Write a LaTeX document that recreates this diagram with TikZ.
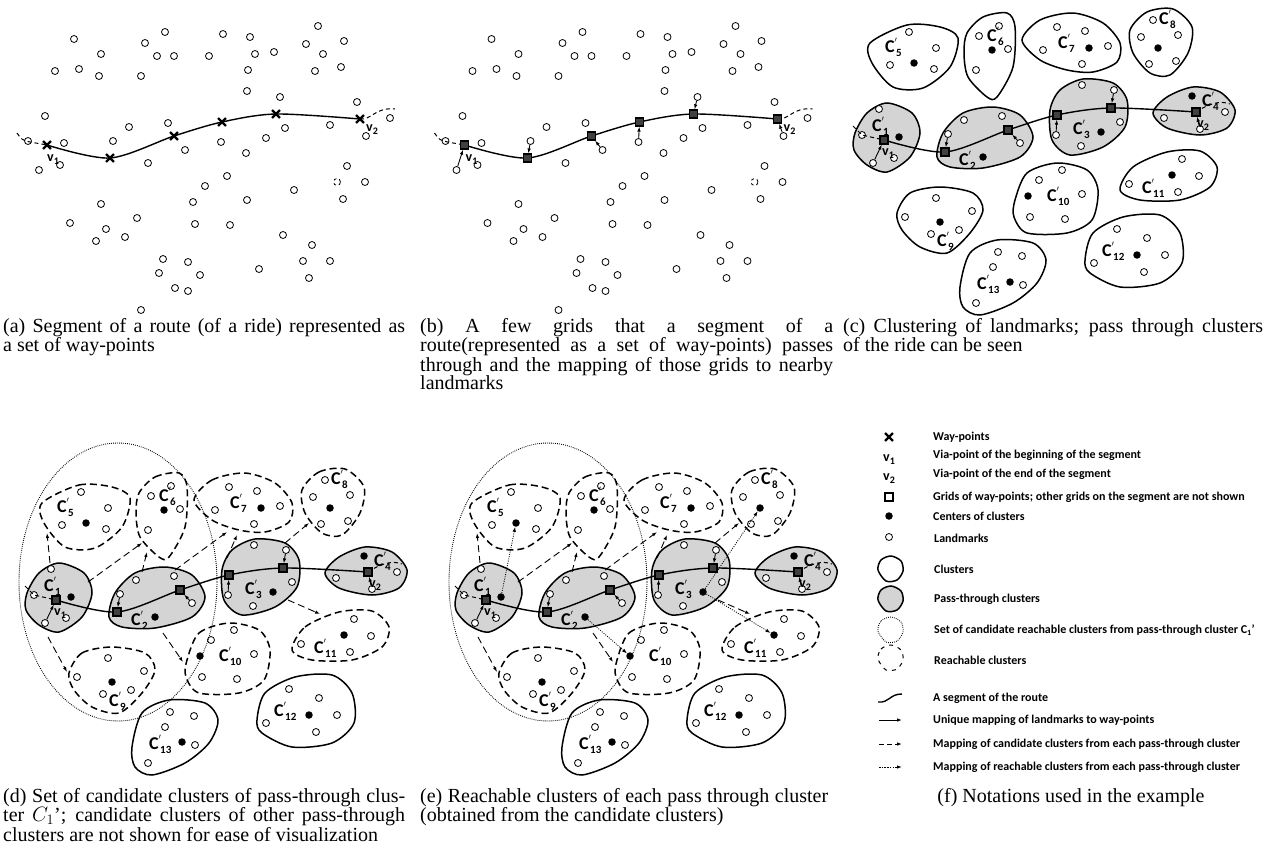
\documentclass[tikz,border=0pt]{standalone}
\usepackage{fontspec}
\setmainfont{Liberation Serif}
\newfontfamily\labelfont{Carlito}
\usetikzlibrary{arrows.meta,shapes.misc}

\newcommand{\clab}[1]{C\rlap{\smash{\raisebox{6.5pt}{\fontsize{11}{11}\selectfont$'$}}}\smash{\raisebox{-4pt}{\fontsize{11}{11}\selectfont\kern1.5pt #1}}}
\newcommand{\vsub}[1]{v\smash{\raisebox{-3.5pt}{\fontsize{10}{10}\selectfont #1}}}

\tikzset{
  lm/.style={circle, draw, fill=white, line width=0.8pt, inner sep=0pt, minimum size=7pt},
  ctr/.style={circle, fill=black, inner sep=0pt, minimum size=7.5pt},
  wpx/.style={cross out, draw, line width=2.4pt, inner sep=0pt, minimum size=5.5pt},
  grd/.style={rectangle, draw, line width=1.2pt, fill=black!75, inner sep=0pt, minimum size=8pt},
  rt/.style={line width=1.4pt},
  rtend/.style={line width=1pt, dash pattern=on 4pt off 3pt},
  map/.style={-{Latex[length=5pt,width=3.5pt]}, line width=0.9pt},
  clus/.style={line width=1.5pt},
  pass/.style={clus, fill=black!17},
  reach/.style={clus, dash pattern=on 7pt off 4pt},
  cand/.style={line width=0.9pt, dash pattern=on 0.8pt off 1.2pt},
  candarr/.style={-{Latex[length=5pt,width=3.5pt]}, line width=0.9pt, dash pattern=on 7pt off 4pt},
  reacharr/.style={-{Latex[length=5pt,width=3.5pt]}, line width=0.8pt, dash pattern=on 1pt off 1.3pt},
  clabel/.style={font=\labelfont\bfseries\fontsize{18}{18}\selectfont, inner sep=0pt, anchor=west},
  vlabel/.style={font=\labelfont\bfseries\fontsize{14}{14}\selectfont, inner sep=0pt, anchor=west},
  note/.style={font=\labelfont\bfseries\fontsize{12}{14}\selectfont, inner sep=0pt, anchor=west},
  captext/.style={font=\fontsize{20}{18.3}\selectfont, inner sep=0pt, anchor=north west, align=justify},
}

% landmarks of panels (a) and (b)
\newcommand{\landmarksAB}{
  \foreach \p [count=\i] in {(74,39),(101,54),(55,71),(79,69),(99,76),(145,43),(165,32),(157,56),(174,56),(141,76),
      (223,34),(250,37),(209,56),(255,54),(274,52),(248,70),(247,91),(318,26),(306,44),(344,41),(323,54),(315,71),
      (341,67),(357,102),(390,118),(45,116),(28,141),(64,143),(60,165),(129,127),(168,123),(148,163),(246,153),
      (266,138),(285,128),(330,125),(227,176),(205,186),(193,202),(247,200),(195,224),(230,225),(294,190),(347,166),
      (365,182),(343,199),(101,204),(70,223),(106,229),(137,218),(96,241),(125,237),(163,259),(188,262),(159,273),
      (200,275),(175,288),(188,291),(141,310),(283,235),(312,245),(303,261),(330,261),(309,278),(259,269)}
    \node[lm] (lmA\i) at \p {};
  \node[lm, dashed] (lmx) at (337,182) {};
  \node[lm] (m1) at (39,170) {};
  \node[lm] (m2) at (113,141) {};
  \node[lm] (m3) at (185,150) {};
  \node[lm] (m4) at (221,142) {};
  \node[lm] (m5) at (280,97) {};
  \node[lm] (m6) at (366,136) {};
}

% route of panels (a) and (b)
\newcommand{\routeAB}{
  \coordinate (w1) at (47,145);
  \coordinate (w2) at (110,158);
  \coordinate (w3) at (174,136);
  \coordinate (w4) at (222,122);
  \coordinate (w5) at (276,114);
  \coordinate (w6) at (360,119);
  \coordinate (ws) at (17,133);
  \coordinate (we) at (395,109);
  \draw[rtend] (ws) .. controls (22,140) .. (30,142) -- (w1);
  \draw[rtend] (w6) .. controls (372,120) and (375,107) .. (we);
  \draw[rt] plot[smooth] coordinates {(w1) (w2) (w3) (w4) (w5) (w6)};
}

% clusters of panels (c), (d) and (e)
\newcommand{\clusterLayout}[1]{
  \draw[#1] plot[smooth cycle] coordinates {(870,43) (907,25) (940,27) (958,38) (950,67) (923,88) (893,87) (872,63)};
  \draw[#1] plot[smooth cycle] coordinates {(967,33) (983,17) (1007,13) (1015,27) (1013,67) (997,97) (987,97) (968,77) (964,53)};
  \draw[#1] plot[smooth cycle] coordinates {(1022,40) (1040,20) (1073,13) (1103,23) (1120,43) (1117,62) (1093,72) (1067,70) (1040,60)};
  \draw[#1] plot[smooth cycle] coordinates {(1130,30) (1147,12) (1173,9) (1192,27) (1188,53) (1170,75) (1150,73) (1133,53)};
  \draw[#1] plot[smooth cycle] coordinates {(897,213) (910,193) (940,187) (973,193) (983,210) (970,233) (947,253) (920,247) (902,230)};
  \draw[#1] plot[smooth cycle] coordinates {(1015,200) (1027,173) (1057,163) (1087,170) (1098,190) (1092,220) (1067,233) (1027,233) (1014,217)};
  \draw[#1] plot[smooth cycle] coordinates {(1120,190) (1133,167) (1167,152) (1200,151) (1217,167) (1210,187) (1180,200) (1140,200)};
  \draw[clus] plot[smooth cycle] coordinates {(1085,260) (1093,233) (1123,217) (1160,215) (1180,233) (1182,263) (1160,283) (1120,287) (1090,273)};
  \draw[clus] plot[smooth cycle] coordinates {(960,287) (970,253) (997,240) (1033,243) (1046,260) (1037,283) (1013,303) (980,315) (963,307)};
  \draw[pass] plot[smooth cycle] coordinates {(855,133) (867,113) (887,103) (912,113) (920,133) (910,157) (887,172) (867,165) (854,150)};
  \draw[pass] plot[smooth cycle] coordinates {(937,157) (943,133) (963,113) (993,107) (1020,115) (1033,137) (1020,157) (983,168) (950,167)};
  \draw[pass] plot[smooth cycle] coordinates {(1050,110) (1060,90) (1083,79) (1113,83) (1127,100) (1125,127) (1103,147) (1070,155) (1052,140)};
  \draw[pass] plot[smooth cycle] coordinates {(1153,113) (1167,97) (1193,87) (1220,92) (1235,110) (1227,128) (1200,135) (1167,128)};
  \foreach \p [count=\i] in {(909,32),(936,48),(890,65),(934,69),(979,36),(999,26),(1008,49),(976,70),
      (1057,27),(1085,31),(1108,46),(1043,50),(1082,64),(1153,20),(1141,37),(1178,35),(1149,64),(1176,61),
      (879,109),(894,158),(964,120),(1002,116),(1082,85),(1120,122),(1081,146),(1164,118),(1225,112),
      (936,198),(972,211),(905,217),(931,234),(959,230),(1039,180),(1062,170),(1082,194),(1030,217),(1065,219),
      (1182,159),(1199,176),(1129,184),(1178,192),(1117,229),(1147,238),(1165,255),(1094,263),(1144,272),
      (998,252),(1022,256),(993,267),(1023,285),(976,303)}
    \node[lm] (lmC\i) at \p {};
  \node[lm] (q0) at (862,135) {};
  \node[lm] (q1) at (873,163) {};
  \node[lm] (q2) at (948,134) {};
  \node[lm] (q3) at (1020,143) {};
  \node[lm] (q4) at (1056,135) {};
  \node[lm] (q5) at (1114,90) {};
  \node[lm] (q6) at (1200,129) {};
  \foreach \n/\x/\y in {1/899/137,2/983/157,3/1101/132,4/1192/96,5/914/63,6/992/50,7/1089/48,
      8/1158/48,9/940/222,10/1028/196,11/1172/175,12/1137/255,13/1010/282}
    \node[ctr] (k\n) at (\x,\y) {};
  \foreach \n/\x/\y in {1/872/126,2/959/160,3/1073/129,4/1202/101,5/885/47,6/987/36,7/1058/43,
      8/1159/19,9/937/241,10/1047/196,11/1142/188,12/1102/251,13/977/284}
    \node[clabel] (cl\n) at (\x,\y) {\clab{\n}};
  \coordinate (g1) at (884,140);
  \coordinate (g2) at (945,152);
  \coordinate (g3) at (1008,130);
  \coordinate (g4) at (1057,115);
  \coordinate (g5) at (1111,108);
  \coordinate (g6) at (1196,112);
  \draw[rtend] (853,126) .. controls (857,131) .. (q0.center) -- (g1);
  \draw[rtend] (g6) .. controls (1208,104) and (1220,100) .. (1230,104);
  \draw[rt] plot[smooth] coordinates {(g1) (g2) (g3) (g4) (g5) (g6)};
  \foreach \i in {1,...,6} \node[grd] (sq\i) at (g\i) {};
  \foreach \i in {1,...,6} \draw[map] (q\i) -- (sq\i);
  \node[vlabel] (vc1) at (882,152) {\vsub{1}};
  \node[vlabel] (vc2) at (1197,124) {\vsub{2}};
}

\newcommand{\candArrows}{
  \draw[cand] (946,122) ellipse [x radius=99, y radius=139];
  \draw[candarr] (878,103) -- (875,73);
  \draw[candarr] (916,122) -- (970,83);
  \draw[candarr] (876,177) -- (895,212);
  \draw[candarr] (970,112) -- (975,92);
  \draw[candarr] (1003,110) -- (1055,72);
  \draw[candarr] (991,173) -- (1011,202);
  \draw[candarr] (1055,98) -- (1065,75);
  \draw[candarr] (1113,83) -- (1137,63);
  \draw[candarr] (1116,140) -- (1148,154);
}

\begin{document}
\begin{tikzpicture}[x=1pt,y=-1pt]
  \useasboundingbox (0,0) rectangle (1267,849);

  % (a)
  \landmarksAB
  \routeAB
  \foreach \i in {1,...,6} \node[wpx] (x\i) at (w\i) {};
  \node[vlabel] (va1) at (47,158) {\vsub{1}};
  \node[vlabel] (va2) at (366,128) {\vsub{2}};

  % (b)
  \begin{scope}[shift={(417.5,0)}]
    \landmarksAB
    \routeAB
    \foreach \i in {1,...,6} \node[grd] (s\i) at (w\i) {};
    \foreach \i in {1,...,6} \draw[map] (m\i) -- (s\i);
    \node[vlabel] (vb1) at (48,158) {\vsub{1}};
    \node[vlabel] (vb2) at (366,128) {\vsub{2}};
  \end{scope}

  % (c)
  \clusterLayout{clus}

  % (d)
  \begin{scope}[shift={(-828,460)}]
    \clusterLayout{reach}
    \candArrows
  \end{scope}

  % (e)
  \begin{scope}[shift={(-398,460)}]
    \clusterLayout{reach}
    \candArrows
    \draw[reacharr] (k1) -- (k5);
    \draw[reacharr] (k2) -- (k10);
    \draw[reacharr] (k3) -- (k8);
    \draw[reacharr] (k3) -- (k11);
  \end{scope}

  % (f) notations
  \node[wpx] (nx) at (889,437) {};
  \node[vlabel, anchor=center] (nv1) at (889,458) {\vsub{1}};
  \node[vlabel, anchor=center] (nv2) at (889,477) {\vsub{2}};
  \node[rectangle, draw, line width=1.2pt, inner sep=0pt, minimum size=8pt] (nsq) at (889,497) {};
  \node[ctr] (nk) at (889,516) {};
  \node[lm] (nl) at (889,537) {};
  \draw[clus] plot[smooth cycle] coordinates {(878,570) (881,560) (891,556) (901,561) (903,571) (897,580) (886,581)};
  \draw[pass] plot[smooth cycle] coordinates {(878,600) (881,590) (891,586) (901,591) (903,601) (897,610) (886,611)};
  \draw[cand] plot[smooth cycle] coordinates {(878,631) (881,621) (891,617) (901,622) (903,632) (897,641) (886,642)};
  \draw[line width=1pt, dash pattern=on 4pt off 5pt] plot[smooth cycle] coordinates {(878,659) (881,649) (891,645) (901,650) (903,660) (897,669) (886,670)};
  \draw[rt] (878,702) .. controls (890,703) and (889,694) .. (902,694);
  \draw[map] (879,720) -- (902,720);
  \draw[map, dash pattern=on 5pt off 3pt] (879,744) -- (902,744);
  \draw[map, dash pattern=on 1.5pt off 1.2pt] (879,767) -- (902,767);
  \node[note] (t1) at (933,437) {Way-points};
  \node[note] (t2) at (933,455) {Via-point of the beginning of the segment};
  \node[note] (t3) at (933,474) {Via-point of the end of the segment};
  \node[note] (t4) at (933,497) {Grids of way-points; other grids on the segment are not shown};
  \node[note] (t5) at (933,516) {Centers of clusters};
  \node[note] (t6) at (934,538) {Landmarks};
  \node[note] (t7) at (934,569) {Clusters};
  \node[note] (t8) at (934,599) {Pass-through clusters};
  \node[note] (t9) at (934,630) {Set of candidate reachable clusters from pass-through cluster C\textsubscript{1}’};
  \node[note] (t10) at (934,660) {Reachable clusters};
  \node[note] (t11) at (933,698) {A segment of the route};
  \node[note] (t12) at (933,720) {Unique mapping of landmarks to way-points};
  \node[note] (t13) at (933,744) {Mapping of candidate clusters from each pass-through cluster};
  \node[note] (t14) at (933,767) {Mapping of reachable clusters from each pass-through cluster};

  % captions
  \node[captext, text width=402pt] (capa) at (3,318)
    {(a) Segment of a route (of a ride) represented as\linebreak a set of way-points};
  \node[captext, text width=413pt] (capb) at (420,318)
    {(b) A few grids that a segment of a\linebreak route(represented as a set of way-points) passes\linebreak
     through and the mapping of those grids to nearby\linebreak landmarks};
  \node[captext, text width=420pt] (capc) at (843,318)
    {(c) Clustering of landmarks; pass through clusters\linebreak of the ride can be seen};
  \node[captext, text width=402pt] (capd) at (3,788)
    {(d) Set of candidate clusters of pass-through clus-\linebreak ter $C_1$’; candidate clusters of other pass-through\linebreak
     clusters are not shown for ease of visualization};
  \node[captext, text width=408pt] (cape) at (420,788)
    {(e) Reachable clusters of each pass through cluster\linebreak (obtained from the candidate clusters)};
  \node[captext, anchor=north] (capf) at (1071,788) {(f) Notations used in the example};
\end{tikzpicture}
\end{document}
